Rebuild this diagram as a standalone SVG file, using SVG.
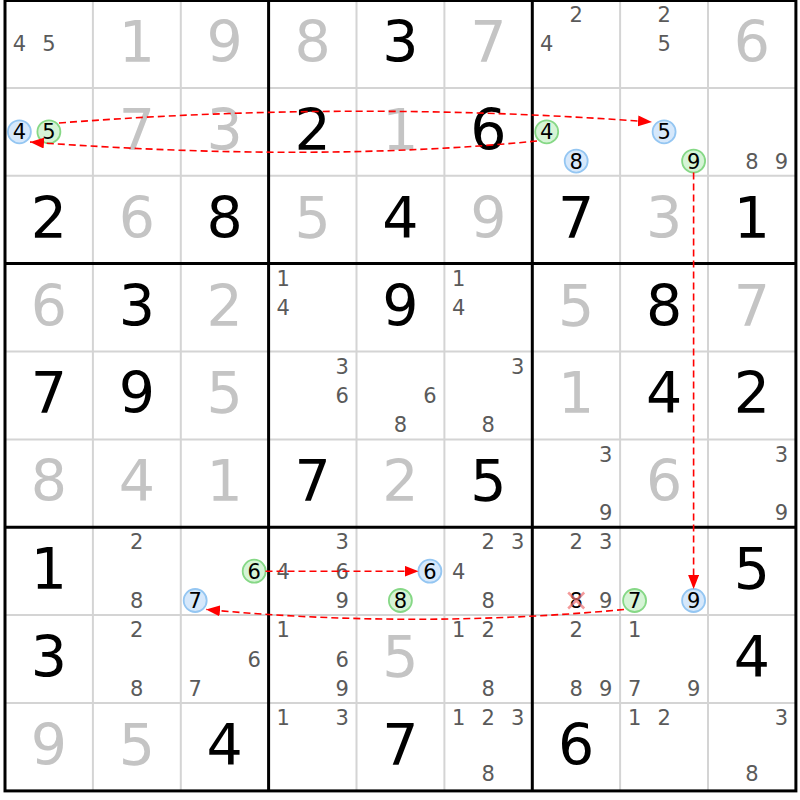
<svg xmlns="http://www.w3.org/2000/svg" width="800" height="800" viewBox="0 0 800 800">
<defs>
<style>
.bg{fill:#ffffff}
.thin{stroke:#d4d4d4;stroke-width:2;fill:none}
.thick{stroke:#000;stroke-width:3;fill:none}
text{font-family:"DejaVu Sans","Liberation Sans",sans-serif;text-anchor:middle}
.g{font-size:57px;fill:#c4c4c4}
.s{font-size:57px;fill:#000}
.c{font-size:21px;fill:#5a5a5a}
.k{font-size:21px;fill:#000}
.cb{fill:#d6e8fb;stroke:#94c6f2;stroke-width:1.8}
.cg{fill:#d6f4d6;stroke:#86d886;stroke-width:1.8}
.link{fill:none;stroke:#ff0000;stroke-width:1.6;stroke-dasharray:7,4}
.x{stroke:#f07070;stroke-width:2.5;opacity:0.7}
</style>
<marker id="ah" markerUnits="userSpaceOnUse" markerWidth="15" markerHeight="11" refX="14" refY="5.5" orient="auto">
<path d="M0,0 L14,5.5 L0,11 Z" fill="#ff0000"/>
</marker>
</defs>
<rect class="bg" x="0" y="0" width="800" height="800"/>
<g id="grid">
<path class="thin" d="M92.9,0V791M180.8,0V791M356.5,0V791M444.4,0V791M620.1,0V791M708,0V791M5,87.9H796M5,175.8H796M5,351.5H796M5,439.4H796M5,615.1H796M5,703H796"/>
<path class="thick" d="M268.6,0V791M532.3,0V791M5,263.6H796M5,527.3H796"/>
<rect class="thick" x="5" y="0.5" width="790.9" height="790.4"/>
</g>
<g id="cells">
<g id="r0c0"><text class="c" x="19.4" y="51.4">4</text><text class="c" x="48.9" y="51.4">5</text></g>
<g id="r0c1"><text class="g" x="136.8" y="61.8">1</text></g>
<g id="r0c2"><text class="g" x="224.7" y="61.8">9</text></g>
<g id="r0c3"><text class="g" x="312.6" y="61.8">8</text></g>
<g id="r0c4"><text class="s" x="400.4" y="61.8">3</text></g>
<g id="r0c5"><text class="g" x="488.3" y="61.8">7</text></g>
<g id="r0c6"><text class="c" x="576.2" y="22.1">2</text><text class="c" x="546.7" y="51.4">4</text></g>
<g id="r0c7"><text class="c" x="664.1" y="22.1">2</text><text class="c" x="664.1" y="51.4">5</text></g>
<g id="r0c8"><text class="g" x="752" y="61.8">6</text></g>

<g id="r1c0"><circle class="cb" cx="19.4" cy="131.8" r="11.5"/><text class="k" x="19.4" y="139.3">4</text><circle class="cg" cx="48.9" cy="131.8" r="11.5"/><text class="k" x="48.9" y="139.3">5</text></g>
<g id="r1c1"><text class="g" x="136.8" y="149.7">7</text></g>
<g id="r1c2"><text class="g" x="224.7" y="149.7">3</text></g>
<g id="r1c3"><text class="s" x="312.6" y="149.7">2</text></g>
<g id="r1c4"><text class="g" x="400.4" y="149.7">1</text></g>
<g id="r1c5"><text class="s" x="488.3" y="149.7">6</text></g>
<g id="r1c6"><circle class="cg" cx="546.7" cy="131.8" r="11.5"/><text class="k" x="546.7" y="139.3">4</text><circle class="cb" cx="576.2" cy="161.1" r="11.5"/><text class="k" x="576.2" y="168.6">8</text></g>
<g id="r1c7"><circle class="cb" cx="664.1" cy="131.8" r="11.5"/><text class="k" x="664.1" y="139.3">5</text><circle class="cg" cx="693.6" cy="161.1" r="11.5"/><text class="k" x="693.6" y="168.6">9</text></g>
<g id="r1c8"><text class="c" x="752" y="168.6">8</text><text class="c" x="781.5" y="168.6">9</text></g>

<g id="r2c0"><text class="s" x="48.9" y="237.6">2</text></g>
<g id="r2c1"><text class="g" x="136.8" y="237.6">6</text></g>
<g id="r2c2"><text class="s" x="224.7" y="237.6">8</text></g>
<g id="r2c3"><text class="g" x="312.6" y="237.6">5</text></g>
<g id="r2c4"><text class="s" x="400.4" y="237.6">4</text></g>
<g id="r2c5"><text class="g" x="488.3" y="237.6">9</text></g>
<g id="r2c6"><text class="s" x="576.2" y="237.6">7</text></g>
<g id="r2c7"><text class="g" x="664.1" y="237.6">3</text></g>
<g id="r2c8"><text class="s" x="752" y="237.6">1</text></g>

<g id="r3c0"><text class="g" x="48.9" y="325.5">6</text></g>
<g id="r3c1"><text class="s" x="136.8" y="325.5">3</text></g>
<g id="r3c2"><text class="g" x="224.7" y="325.5">2</text></g>
<g id="r3c3"><text class="c" x="283.1" y="285.8">1</text><text class="c" x="283.1" y="315.1">4</text></g>
<g id="r3c4"><text class="s" x="400.4" y="325.5">9</text></g>
<g id="r3c5"><text class="c" x="458.8" y="285.8">1</text><text class="c" x="458.8" y="315.1">4</text></g>
<g id="r3c6"><text class="g" x="576.2" y="325.5">5</text></g>
<g id="r3c7"><text class="s" x="664.1" y="325.5">8</text></g>
<g id="r3c8"><text class="g" x="752" y="325.5">7</text></g>

<g id="r4c0"><text class="s" x="48.9" y="413.3">7</text></g>
<g id="r4c1"><text class="s" x="136.8" y="413.3">9</text></g>
<g id="r4c2"><text class="g" x="224.7" y="413.3">5</text></g>
<g id="r4c3"><text class="c" x="342.1" y="373.6">3</text><text class="c" x="342.1" y="402.9">6</text></g>
<g id="r4c4"><text class="c" x="429.9" y="402.9">6</text><text class="c" x="400.4" y="432.2">8</text></g>
<g id="r4c5"><text class="c" x="517.8" y="373.6">3</text><text class="c" x="488.3" y="432.2">8</text></g>
<g id="r4c6"><text class="g" x="576.2" y="413.3">1</text></g>
<g id="r4c7"><text class="s" x="664.1" y="413.3">4</text></g>
<g id="r4c8"><text class="s" x="752" y="413.3">2</text></g>

<g id="r5c0"><text class="g" x="48.9" y="501.2">8</text></g>
<g id="r5c1"><text class="g" x="136.8" y="501.2">4</text></g>
<g id="r5c2"><text class="g" x="224.7" y="501.2">1</text></g>
<g id="r5c3"><text class="s" x="312.6" y="501.2">7</text></g>
<g id="r5c4"><text class="g" x="400.4" y="501.2">2</text></g>
<g id="r5c5"><text class="s" x="488.3" y="501.2">5</text></g>
<g id="r5c6"><text class="c" x="605.7" y="461.5">3</text><text class="c" x="605.7" y="520.1">9</text></g>
<g id="r5c7"><text class="g" x="664.1" y="501.2">6</text></g>
<g id="r5c8"><text class="c" x="781.5" y="461.5">3</text><text class="c" x="781.5" y="520.1">9</text></g>

<g id="r6c0"><text class="s" x="48.9" y="589.1">1</text></g>
<g id="r6c1"><text class="c" x="136.8" y="549.4">2</text><text class="c" x="136.8" y="608">8</text></g>
<g id="r6c2"><circle class="cg" cx="254.2" cy="571.2" r="11.5"/><text class="k" x="254.2" y="578.7">6</text><circle class="cb" cx="195.2" cy="600.5" r="11.5"/><text class="k" x="195.2" y="608">7</text></g>
<g id="r6c3"><text class="c" x="342.1" y="549.4">3</text><text class="c" x="283.1" y="578.7">4</text><text class="c" x="342.1" y="578.7">6</text><text class="c" x="342.1" y="608">9</text></g>
<g id="r6c4"><circle class="cb" cx="429.9" cy="571.2" r="11.5"/><text class="k" x="429.9" y="578.7">6</text><circle class="cg" cx="400.4" cy="600.5" r="11.5"/><text class="k" x="400.4" y="608">8</text></g>
<g id="r6c5"><text class="c" x="488.3" y="549.4">2</text><text class="c" x="517.8" y="549.4">3</text><text class="c" x="458.8" y="578.7">4</text><text class="c" x="488.3" y="608">8</text></g>
<g id="r6c6"><text class="c" x="576.2" y="549.4">2</text><text class="c" x="605.7" y="549.4">3</text><text class="k" x="576.2" y="608">8</text><path class="x" d="M568.2,592.5L584.2,608.5M584.2,592.5L568.2,608.5"/><text class="c" x="605.7" y="608">9</text></g>
<g id="r6c7"><circle class="cg" cx="634.6" cy="600.5" r="11.5"/><text class="k" x="634.6" y="608">7</text><circle class="cb" cx="693.6" cy="600.5" r="11.5"/><text class="k" x="693.6" y="608">9</text></g>
<g id="r6c8"><text class="s" x="752" y="589.1">5</text></g>

<g id="r7c0"><text class="s" x="48.9" y="677">3</text></g>
<g id="r7c1"><text class="c" x="136.8" y="637.3">2</text><text class="c" x="136.8" y="695.9">8</text></g>
<g id="r7c2"><text class="c" x="254.2" y="666.6">6</text><text class="c" x="195.2" y="695.9">7</text></g>
<g id="r7c3"><text class="c" x="283.1" y="637.3">1</text><text class="c" x="342.1" y="666.6">6</text><text class="c" x="342.1" y="695.9">9</text></g>
<g id="r7c4"><text class="g" x="400.4" y="677">5</text></g>
<g id="r7c5"><text class="c" x="458.8" y="637.3">1</text><text class="c" x="488.3" y="637.3">2</text><text class="c" x="488.3" y="695.9">8</text></g>
<g id="r7c6"><text class="c" x="576.2" y="637.3">2</text><text class="c" x="576.2" y="695.9">8</text><text class="c" x="605.7" y="695.9">9</text></g>
<g id="r7c7"><text class="c" x="634.6" y="637.3">1</text><text class="c" x="634.6" y="695.9">7</text><text class="c" x="693.6" y="695.9">9</text></g>
<g id="r7c8"><text class="s" x="752" y="677">4</text></g>

<g id="r8c0"><text class="g" x="48.9" y="764.9">9</text></g>
<g id="r8c1"><text class="g" x="136.8" y="764.9">5</text></g>
<g id="r8c2"><text class="s" x="224.7" y="764.9">4</text></g>
<g id="r8c3"><text class="c" x="283.1" y="725.2">1</text><text class="c" x="342.1" y="725.2">3</text></g>
<g id="r8c4"><text class="s" x="400.4" y="764.9">7</text></g>
<g id="r8c5"><text class="c" x="458.8" y="725.2">1</text><text class="c" x="488.3" y="725.2">2</text><text class="c" x="517.8" y="725.2">3</text><text class="c" x="488.3" y="781">8</text></g>
<g id="r8c6"><text class="s" x="576.2" y="764.9">6</text></g>
<g id="r8c7"><text class="c" x="634.6" y="725.2">1</text><text class="c" x="664.1" y="725.2">2</text></g>
<g id="r8c8"><text class="c" x="781.5" y="725.2">3</text><text class="c" x="752" y="781">8</text></g>
</g>
<g id="links">
<path class="link" d="M537,141 Q315,163 30,142" marker-end="url(#ah)"/>
<path class="link" d="M59,123 Q355,100 652,122" marker-end="url(#ah)"/>
<path class="link" d="M693.6,172.5 L693.6,589" marker-end="url(#ah)"/>
<path class="link" d="M265.5,571.2 L418.5,571.2" marker-end="url(#ah)"/>
<path class="link" d="M624,609.5 Q414,629 206,609.5" marker-end="url(#ah)"/>
</g>
</svg>
